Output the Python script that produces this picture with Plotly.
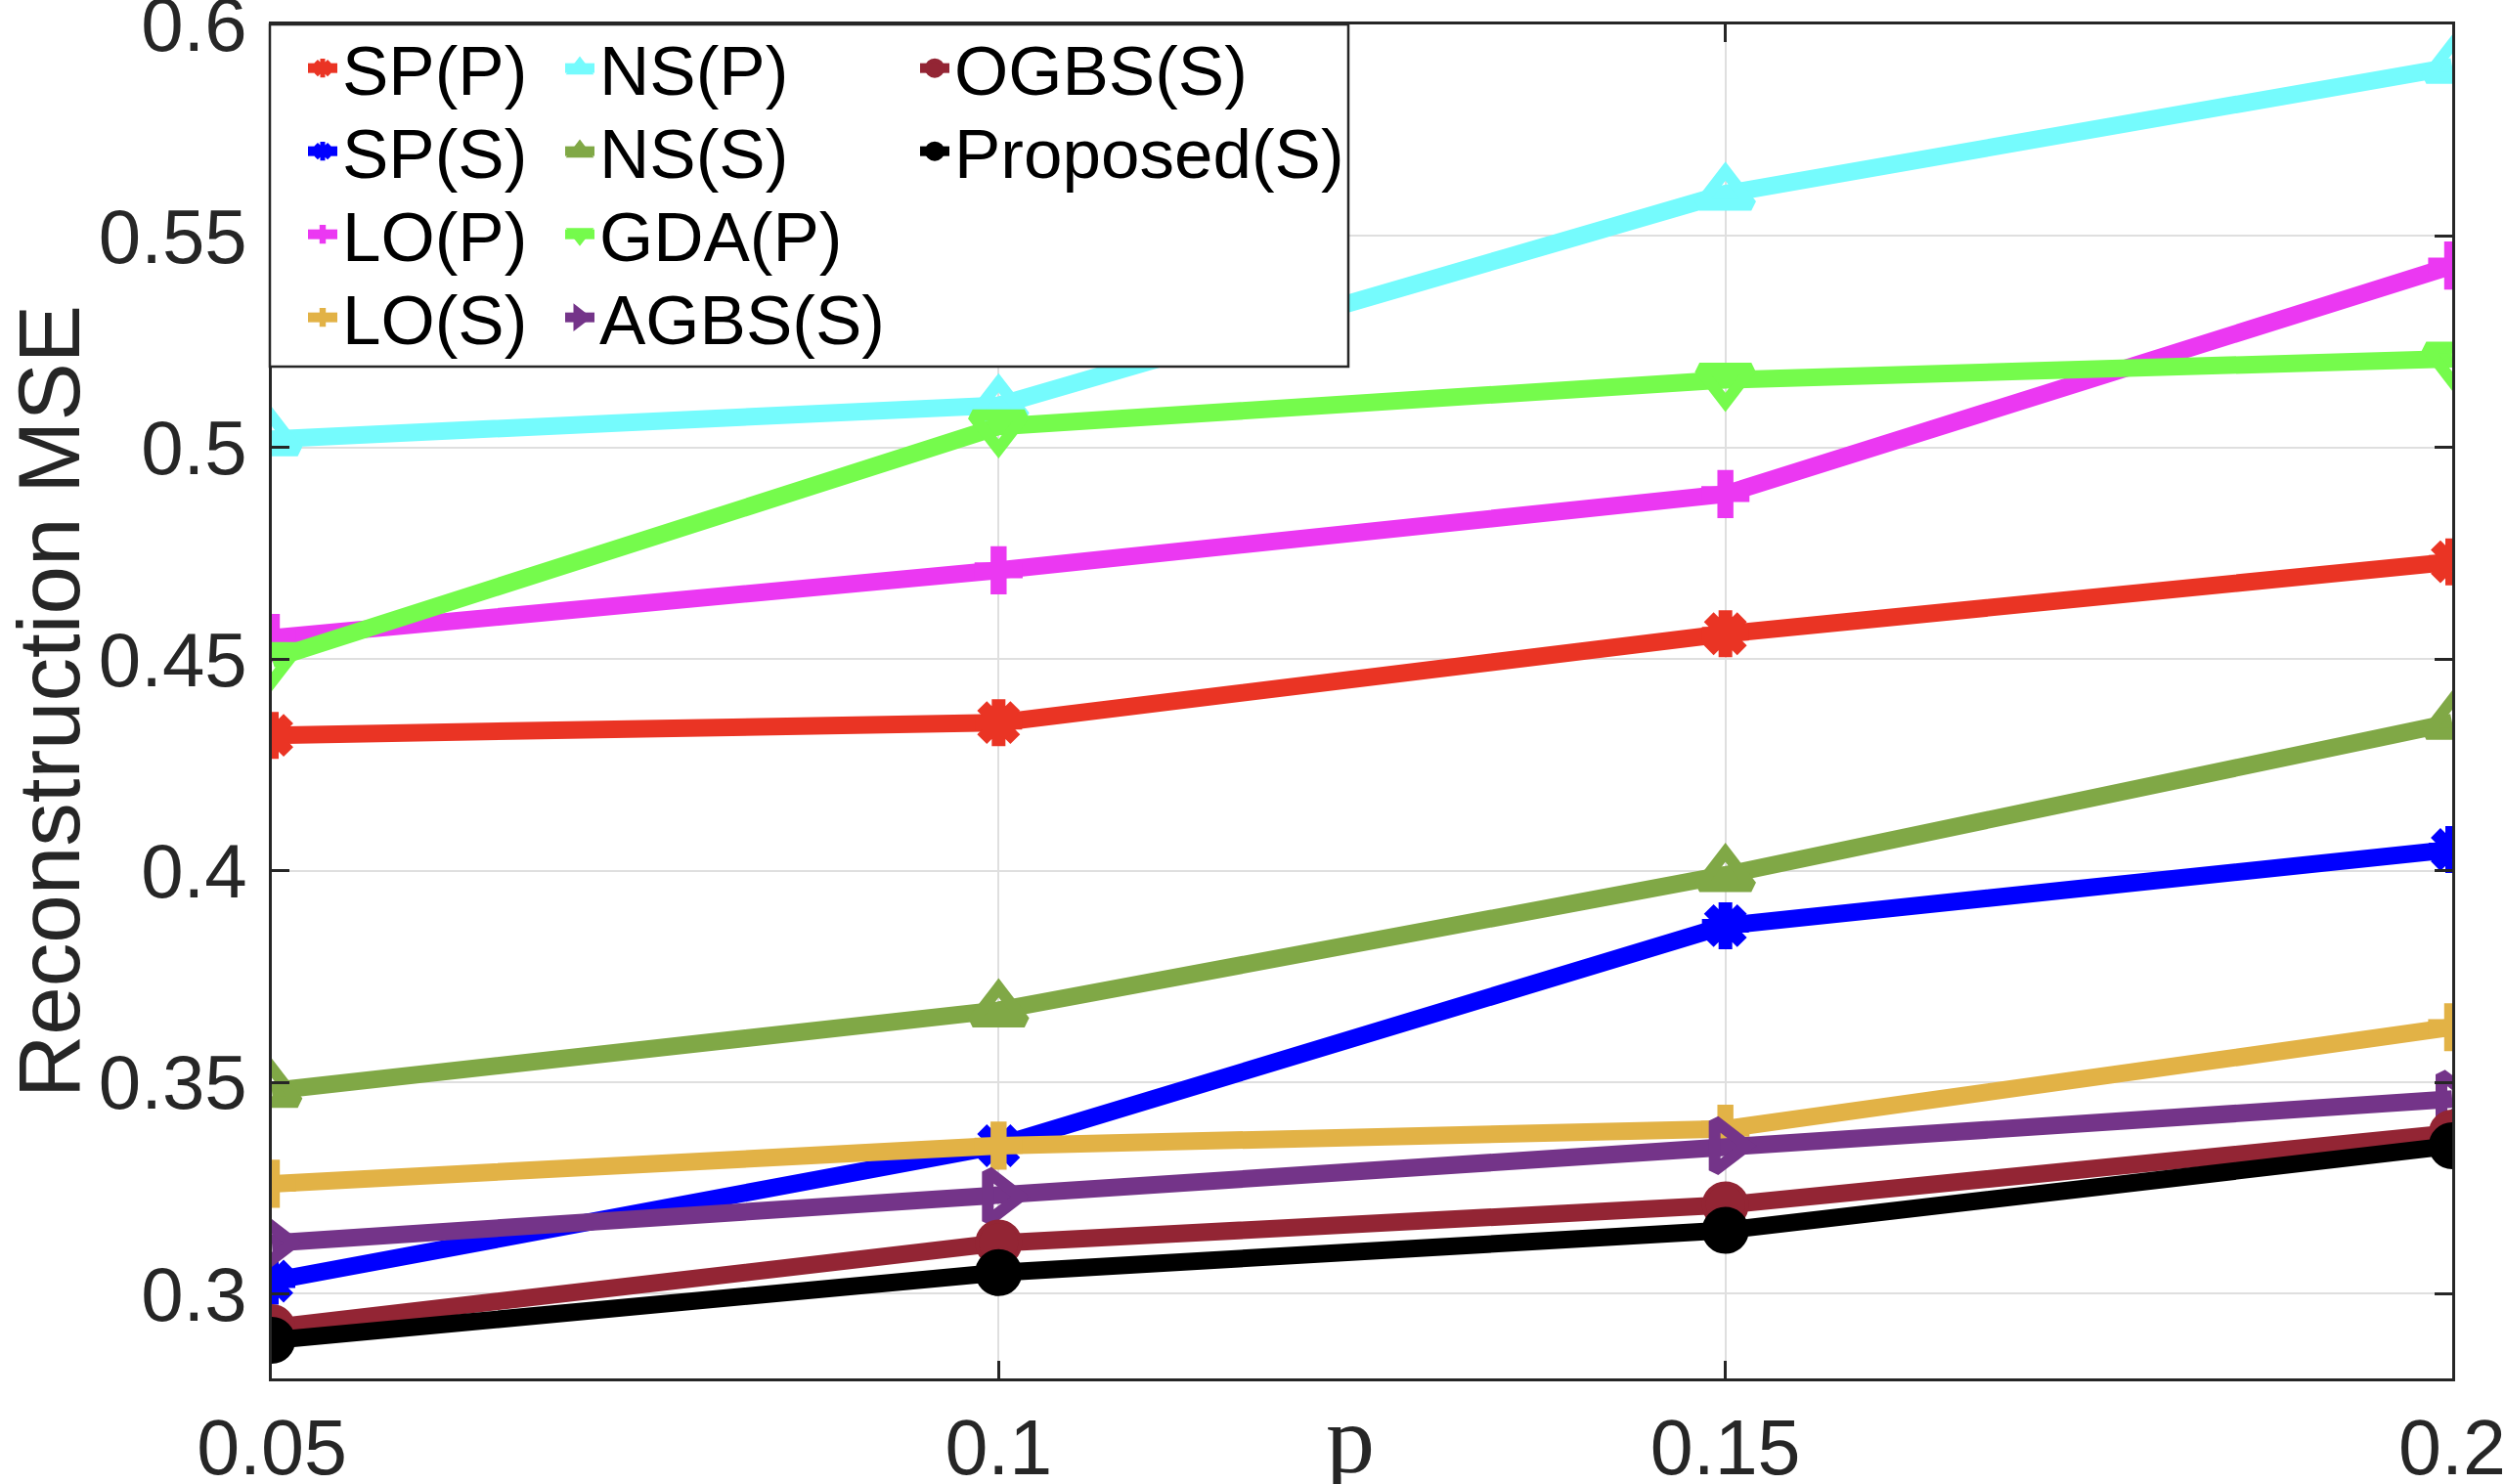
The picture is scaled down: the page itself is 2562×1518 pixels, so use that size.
import plotly.graph_objects as go

# ---------------- data ----------------
p_values = [0.05, 0.10, 0.15, 0.20]
x_tick_labels = ["0.05", "0.1", "0.15", "0.2"]
y_tick_values = [0.30, 0.35, 0.40, 0.45, 0.50, 0.55, 0.60]
y_tick_labels = ["0.3", "0.35", "0.4", "0.45", "0.5", "0.55", "0.6"]

sp_p = [0.432, 0.435, 0.456, 0.473]
sp_s = [0.303, 0.335, 0.387, 0.405]
lo_p = [0.455, 0.471, 0.489, 0.543]
lo_s = [0.326, 0.335, 0.339, 0.363]
ns_p = [0.502, 0.510, 0.560, 0.590]
ns_s = [0.348, 0.367, 0.399, 0.435]
gda_p = [0.450, 0.505, 0.516, 0.521]
agbs_s = [0.312, 0.323, 0.335, 0.346]
ogbs_s = [0.292, 0.312, 0.321, 0.338]
proposed_s = [0.289, 0.305, 0.315, 0.335]

series_names = ["SP(P)", "SP(S)", "LO(P)", "LO(S)", "NS(P)", "NS(S)",
                "GDA(P)", "AGBS(S)", "OGBS(S)", "Proposed(S)"]
series_values = [sp_p, sp_s, lo_p, lo_s, ns_p, ns_s, gda_p, agbs_s, ogbs_s, proposed_s]

# ---------------- styles ----------------
colors = ["#EA3424", "#0000FF", "#EB38F2", "#E2B246", "#75FBFD", "#80A846",
          "#75FB4C", "#743489", "#932534", "#000000"]
symbols = ["asterisk-open", "asterisk-open", "cross", "cross",
           "triangle-up-open", "triangle-up-open", "triangle-down-open",
           "triangle-right-open", "circle", "circle"]
sizes = [40, 40, 41, 41, 46, 46, 46, 44, 44, 44]
mlw = [14, 14, 0, 0, 12, 12, 12, 12, 4, 4]
# legend grid placement (column, row) of each entry
legend_cols = [0, 0, 0, 0, 1, 1, 1, 1, 2, 2]
legend_rows = [0, 1, 2, 3, 0, 1, 2, 3, 0, 1]
col_text_left = [350, 613, 976]        # page px where the entry text starts
row_top = [17, 102, 187, 272]          # page px of each legend row top

W, H = 2562, 1518
L, R, T, B = 278, 54, 25, 108          # plot area edges in page pixels
PW, PH = W - L - R, H - T - B


def px_x(px):
    return (px - L) / PW


def px_y(py):
    return (H - B - py) / PH


FONT = "Liberation Sans, Arial, Helvetica, sans-serif"
AXC = "#262626"

fig = go.Figure()
legend_layouts = {}
for i, (name, vals, c, sym, s, lw) in enumerate(zip(series_names, series_values, colors,
                                                   symbols, sizes, mlw)):
    lid = "legend" if i == 0 else f"legend{i + 1}"
    fig.add_trace(go.Scatter(
        x=p_values, y=vals, name=name, mode="lines+markers",
        line=dict(color=c, width=18),
        marker=dict(symbol=sym, size=s, color=c,
                    line=dict(color=c, width=lw)),
        legend=lid,
    ))
    legend_layouts[lid] = dict(
        font=dict(family=FONT, size=71, color="black"),
        bgcolor="rgba(0,0,0,0)", borderwidth=0,
        xanchor="left", yanchor="top",
        x=px_x(col_text_left[legend_cols[i]] - 40),
        y=px_y(row_top[legend_rows[i]]),
        itemsizing="trace", orientation="v", tracegroupgap=0,
    )

fig.update_layout(
    width=W, height=H, autosize=False,
    margin=dict(l=L, r=R, t=T, b=B, autoexpand=False),
    paper_bgcolor="white", plot_bgcolor="white",
    showlegend=True,
    xaxis=dict(
        range=[0.05, 0.2], tickvals=p_values, ticktext=x_tick_labels,
        showgrid=True, gridcolor="#DFDFDF", gridwidth=2,
        showline=True, linecolor=AXC, linewidth=2.5, mirror="ticks",
        ticks="inside", ticklen=18, tickwidth=2.5, tickcolor=AXC,
        tickfont=dict(family=FONT, size=79, color=AXC),
        ticklabelstandoff=0, ticklabeloverflow="allow",
        zeroline=False, automargin=False,
    ),
    yaxis=dict(
        range=[0.28, 0.6], tickvals=y_tick_values, ticktext=y_tick_labels,
        showgrid=True, gridcolor="#DFDFDF", gridwidth=2,
        showline=True, linecolor=AXC, linewidth=2.5, mirror="ticks",
        ticks="inside", ticklen=18, tickwidth=2.5, tickcolor=AXC,
        tickfont=dict(family=FONT, size=78, color=AXC),
        ticklabelstandoff=7, ticklabeloverflow="allow",
        zeroline=False, automargin=False,
        title=dict(text="Reconstruction MSE", standoff=52,
                   font=dict(family=FONT, size=89, color=AXC)),
    ),
    shapes=[dict(
        type="rect", xref="paper", yref="paper",
        x0=px_x(276), x1=px_x(1379), y0=px_y(375), y1=px_y(25),
        fillcolor="white", line=dict(color=AXC, width=2.5), layer="above",
    )],
    annotations=[dict(
        text="p", xref="paper", yref="paper", x=px_x(1381), y=px_y(1472),
        xanchor="center", yanchor="middle", showarrow=False,
        font=dict(family="Liberation Serif, Times New Roman, serif", size=100, color=AXC),
    )],
    **legend_layouts,
)

fig.write_html("out.html", config={"displayModeBar": False},
               post_script="document.body.style.margin='0';")
